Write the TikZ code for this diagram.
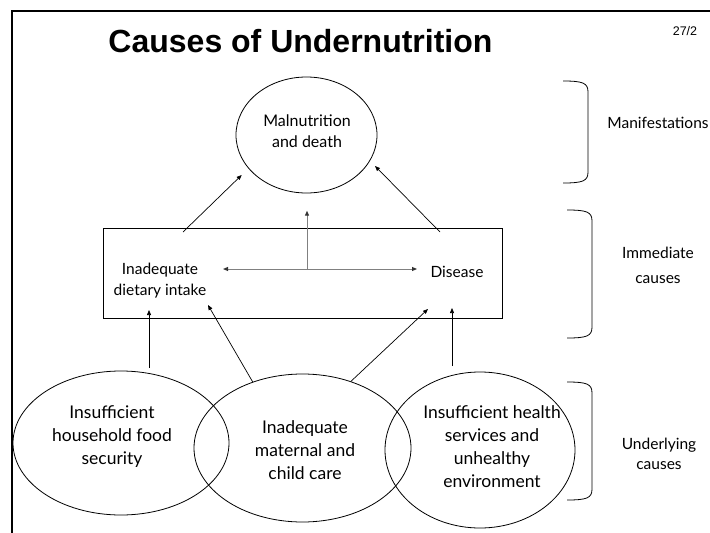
\documentclass[tikz,border=0pt]{standalone}
\usepackage{fontspec}
\setmainfont{Lato}
\newfontfamily\headfont{Liberation Sans}
\usetikzlibrary{arrows.meta,shapes.geometric}

\begin{document}
\begin{tikzpicture}[x=1pt,y=-1pt]
\tikzstyle{every node}+=[inner sep=0pt]
\tikzstyle{blob}=[draw,ellipse,line width=0.8pt]
\tikzstyle{big}=[align=center,font=\fontsize{17.5}{23}\selectfont]
\tikzstyle{small}=[align=center,font=\fontsize{15.5}{21}\selectfont]
\tikzstyle{side}=[align=center,font=\fontsize{15.5}{25}\selectfont]
\tikzstyle{arr}=[line width=0.7pt,-{Triangle[length=5pt,width=4pt]}]
\tikzstyle{garr}=[line width=1pt,draw=black!50,-{Triangle[length=5pt,width=4pt,color=black!80]}]
\tikzstyle{brace}=[line width=0.8pt]
\useasboundingbox (0,0) rectangle (710,533);
% frame and heading
\draw [line width=2.5pt] (12,533) -- (12,11) -- (710,11);
\node [font=\headfont\bfseries\fontsize{32}{36}\selectfont,anchor=base] (title) at (300.5,52) {Causes of Undernutrition};
\node [font=\headfont\fontsize{12.5}{14}\selectfont,anchor=base] (page) at (685,35) {27/2};
% manifestations
\node [blob,minimum width=141pt,minimum height=116pt] (death) at (306.5,135) {};
\node [small,font=\fontsize{16}{21}\selectfont] (deathtxt) at (307,131) {Malnutrition\\and death};
% immediate causes
\node [draw,line width=0.8pt,minimum width=399pt,minimum height=90pt] (box) at (302.5,273) {};
\node [small] (intake) at (160,281) {Inadequate\\dietary intake};
\node [small] (disease) at (457,272) {Disease};
% underlying causes
\node [blob,minimum width=216pt,minimum height=144pt] (food) at (121,443) {};
\node [blob,minimum width=217pt,minimum height=148pt] (care) at (302.5,448) {};
\node [blob,minimum width=190pt,minimum height=156pt] (health) at (480,450) {};
\node [big] (foodtxt) at (112,437) {Insufficient\\household food\\security};
\node [big] (caretxt) at (305,450) {Inadequate\\maternal and\\child care};
\node [big] (healthtxt) at (492,447) {Insufficient health\\services and\\unhealthy\\environment};
% free ends of the connectors
\coordinate (bl) at (183,232);
\coordinate (br) at (440,232);
\coordinate (dl) at (241.7,175);
\coordinate (dr) at (375,166);
\coordinate (hl) at (223,269);
\coordinate (hr) at (417,269);
\coordinate (hm) at (307,269);
\coordinate (up) at (307,210.7);
\coordinate (fa) at (149,368);
\coordinate (fb) at (149,310);
\coordinate (ia) at (208,305);
\coordinate (da) at (428,309);
\coordinate (ea) at (452,366);
\coordinate (eb) at (452,308);
% connectors
\draw [arr] (bl) -- (dl);
\draw [arr] (br) -- (dr);
\draw [garr] (hm) -- (up);
\draw [garr,{Triangle[length=5pt,width=4pt,color=black!80]}-{Triangle[length=5pt,width=4pt,color=black!80]}] (hl) -- (hr);
\draw [arr] (fa) -- (fb);
\draw [arr] (care.127) -- (ia);
\draw [arr] (care.54) -- (da);
\draw [arr] (ea) -- (eb);
% brackets
\draw [brace] (563,81) .. controls (583,81) and (588,83) .. (588,92) -- (588,172) .. controls (588,181) and (583,183) .. (563,183);
\draw [brace] (567,210) .. controls (587,210) and (592,212) .. (592,221) -- (592,327) .. controls (592,336) and (587,338) .. (567,338);
\draw [brace] (567,382) .. controls (587,382) and (592,384) .. (592,393) -- (592,489) .. controls (592,498) and (587,500) .. (567,500);
\node [side] (manif) at (658,123) {Manifestations};
\node [side] (immed) at (658,265) {Immediate\\causes};
\node [side,font=\fontsize{15.5}{20}\selectfont] (under) at (659,454) {Underlying\\causes};
\end{tikzpicture}
\end{document}
